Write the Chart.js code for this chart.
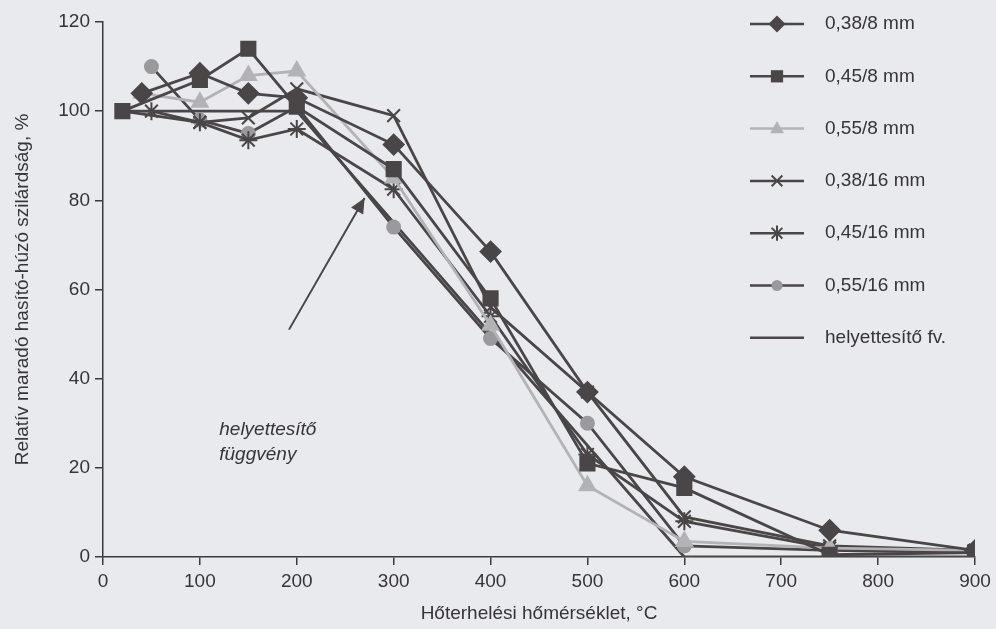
<!DOCTYPE html>
<html>
<head>
<meta charset="utf-8">
<script src="https://cdn.jsdelivr.net/npm/chart.js@4/dist/chart.umd.min.js"></script>
<style>
    html, body { margin: 0; padding: 0; background: #e8eaee; }
    #wrap { width: 996px; height: 629px; position: relative; }
</style>
</head>
<body>
<div id="wrap"><canvas id="chart"></canvas></div>
<script>
    // values
    const seriesLabels = ['0,38/8 mm', '0,45/8 mm', '0,55/8 mm', '0,38/16 mm', '0,45/16 mm', '0,55/16 mm', 'helyettesítő fv.'];

    const temps388 = [40, 100, 150, 200, 300, 400, 500, 600, 750, 900];
    const vals388  = [104, 108.5, 104, 103, 92.5, 68.5, 37, 18, 6, 1.5];

    const temps458 = [20, 100, 150, 200, 300, 400, 500, 600, 750, 900];
    const vals458  = [100, 107, 114, 101, 87, 58, 21, 15.5, 0.5, 1];

    const temps558 = [40, 100, 150, 200, 300, 400, 500, 600, 750, 900];
    const vals558  = [104, 102, 108, 109, 85, 52, 16, 3.5, 2, 1.5];

    const temps3816 = [20, 100, 150, 200, 300, 400, 500, 600, 750, 900];
    const vals3816  = [100, 97.5, 98.5, 105, 99, 56, 37, 9, 2.5, 1.5];

    const temps4516 = [50, 100, 150, 200, 300, 400, 500, 600, 750, 900];
    const vals4516  = [100, 97.5, 93.5, 96, 82.5, 54, 23, 8, 2, 1.5];

    const temps5516 = [50, 100, 150, 200, 300, 400, 500, 600, 750, 900];
    const vals5516  = [110, 98, 95, 101, 74, 49, 30, 2.5, 1.5, 1];

    const tempsFit = [20, 200, 600, 900];
    const valsFit  = [100, 100, 0, 0];

    const xTicks = [0, 100, 200, 300, 400, 500, 600, 700, 800, 900];
    const yTicks = [0, 20, 40, 60, 80, 100, 120];

    const dark = '#4a4547';
    const light = '#b3b3b6';
    const mid = '#9a9a9c';
    const textColor = '#363436';
    const fontFamily = '"Liberation Sans", Arial, sans-serif';

    function pts(xs, ys) {
        return xs.map((x, i) => ({ x: x, y: ys[i] }));
    }

    const styles = [
        { line: dark, fill: dark, point: 'rectRot', radius: 10 },
        { line: dark, fill: dark, point: 'rect', radius: 10 },
        { line: light, fill: light, point: 'triangle', radius: 9 },
        { line: dark, fill: dark, point: 'crossRot', radius: 9 },
        { line: dark, fill: dark, point: 'star', radius: 9 },
        { line: dark, fill: mid, point: 'circle', radius: 6.5 },
        { line: dark, fill: dark, point: false, radius: 0 }
    ];

    const data = [
        pts(temps388, vals388),
        pts(temps458, vals458),
        pts(temps558, vals558),
        pts(temps3816, vals3816),
        pts(temps4516, vals4516),
        pts(temps5516, vals5516),
        pts(tempsFit, valsFit)
    ];

    const datasets = data.map((d, i) => ({
        label: seriesLabels[i],
        data: d,
        showLine: true,
        borderColor: styles[i].line,
        backgroundColor: styles[i].fill,
        pointBorderColor: styles[i].fill,
        pointBackgroundColor: styles[i].fill,
        pointStyle: styles[i].point,
        pointRadius: styles[i].radius,
        pointBorderWidth: 2,
        borderWidth: 2.8,
        tension: 0
    }));

    function drawMarker(ctx, style, x, y, r, color) {
        ctx.save();
        ctx.fillStyle = color;
        ctx.strokeStyle = color;
        ctx.lineWidth = 2;
        ctx.beginPath();
        if (style === 'rectRot') {
            ctx.moveTo(x, y - r); ctx.lineTo(x + r, y); ctx.lineTo(x, y + r); ctx.lineTo(x - r, y);
            ctx.closePath(); ctx.fill();
        } else if (style === 'rect') {
            const s = r * 0.72;
            ctx.rect(x - s, y - s, s * 2, s * 2); ctx.fill();
        } else if (style === 'triangle') {
            ctx.moveTo(x, y - r); ctx.lineTo(x + r * 0.9, y + r * 0.6); ctx.lineTo(x - r * 0.9, y + r * 0.6);
            ctx.closePath(); ctx.fill();
        } else if (style === 'crossRot') {
            const s = r * 0.7;
            ctx.moveTo(x - s, y - s); ctx.lineTo(x + s, y + s);
            ctx.moveTo(x + s, y - s); ctx.lineTo(x - s, y + s);
            ctx.stroke();
        } else if (style === 'star') {
            const s = r * 0.7;
            ctx.moveTo(x, y - r); ctx.lineTo(x, y + r);
            ctx.moveTo(x - s, y - s); ctx.lineTo(x + s, y + s);
            ctx.moveTo(x + s, y - s); ctx.lineTo(x - s, y + s);
            ctx.stroke();
        } else if (style === 'circle') {
            ctx.arc(x, y, r, 0, Math.PI * 2); ctx.fill();
        }
        ctx.restore();
    }

    const legendPlugin = {
        id: 'sideLegend',
        afterDraw(chart) {
            const ctx = chart.ctx;
            const x0 = 750, x1 = 804, tx = 825;
            const top = 24, step = 52.3;
            ctx.save();
            ctx.font = '19px ' + fontFamily;
            ctx.textBaseline = 'middle';
            chart.data.datasets.forEach((ds, i) => {
                const y = top + i * step;
                ctx.strokeStyle = styles[i].line;
                ctx.lineWidth = 2.5;
                ctx.beginPath();
                ctx.moveTo(x0, y);
                ctx.lineTo(x1, y);
                ctx.stroke();
                if (styles[i].point) {
                    drawMarker(ctx, styles[i].point, (x0 + x1) / 2, y, styles[i].radius * 0.85, styles[i].fill);
                }
                ctx.fillStyle = textColor;
                ctx.fillText(ds.label, tx, y);
            });
            ctx.restore();
        }
    };

    // leader line + text of the "helyettesítő függvény" note, positioned in data units
    const notePlugin = {
        id: 'note',
        afterDraw(chart) {
            const ctx = chart.ctx;
            const xs = chart.scales.x, ys = chart.scales.y;
            const ax = xs.getPixelForValue(192), ay = ys.getPixelForValue(51);
            const bx = xs.getPixelForValue(270), by = ys.getPixelForValue(80.5);
            ctx.save();
            ctx.strokeStyle = dark;
            ctx.fillStyle = dark;
            ctx.lineWidth = 2;
            ctx.beginPath();
            ctx.moveTo(ax, ay);
            ctx.lineTo(bx, by);
            ctx.stroke();
            const ang = Math.atan2(by - ay, bx - ax);
            const len = 15, w = 7;
            ctx.beginPath();
            ctx.moveTo(bx, by);
            ctx.lineTo(bx - len * Math.cos(ang) + w * Math.sin(ang), by - len * Math.sin(ang) - w * Math.cos(ang));
            ctx.lineTo(bx - len * Math.cos(ang) - w * Math.sin(ang), by - len * Math.sin(ang) + w * Math.cos(ang));
            ctx.closePath();
            ctx.fill();
            ctx.font = 'italic 19px ' + fontFamily;
            ctx.fillStyle = textColor;
            ctx.textBaseline = 'middle';
            ctx.fillText('helyettesítő', xs.getPixelForValue(120), ys.getPixelForValue(28.5));
            ctx.fillText('függvény', xs.getPixelForValue(120), ys.getPixelForValue(23));
            ctx.restore();
        }
    };

    const fonts = { family: fontFamily, size: 19 };

    new Chart(document.getElementById('chart'), {
        type: 'scatter',
        data: { datasets: datasets },
        options: {
            responsive: true,
            maintainAspectRatio: false,
            animation: false,
            layout: { padding: { left: 0, right: 21, top: 22, bottom: 0 } },
            scales: {
                x: {
                    type: 'linear',
                    min: 0,
                    max: 900,
                    afterFit: (scale) => { scale.height = 72; },
                    afterBuildTicks: (scale) => { scale.ticks = xTicks.map(v => ({ value: v })); },
                    grid: { display: true, drawOnChartArea: false, drawTicks: true, tickLength: 8, color: '#3a3a3a', lineWidth: 1.5 },
                    border: { display: true, color: '#3a3a3a', width: 1.5 },
                    ticks: { color: textColor, font: fonts, padding: 5, maxRotation: 0 },
                    title: { display: true, text: 'Hőterhelési hőmérséklet, °C', color: textColor, font: fonts, padding: { top: 0, bottom: 4 } }
                },
                y: {
                    min: 0,
                    max: 120,
                    afterFit: (scale) => { scale.width = 103; },
                    afterBuildTicks: (scale) => { scale.ticks = yTicks.map(v => ({ value: v })); },
                    grid: { display: true, drawOnChartArea: false, drawTicks: true, tickLength: 8, color: '#3a3a3a', lineWidth: 1.5 },
                    border: { display: true, color: '#3a3a3a', width: 1.5 },
                    ticks: { color: textColor, font: fonts, padding: 5 },
                    title: { display: true, text: 'Relatív maradó hasító-húzó szilárdság, %', color: textColor, font: fonts, padding: { top: 11, bottom: 0 } }
                }
            },
            plugins: {
                legend: { display: false },
                tooltip: { enabled: false }
            }
        },
        plugins: [legendPlugin, notePlugin]
    });
</script>
</body>
</html>
